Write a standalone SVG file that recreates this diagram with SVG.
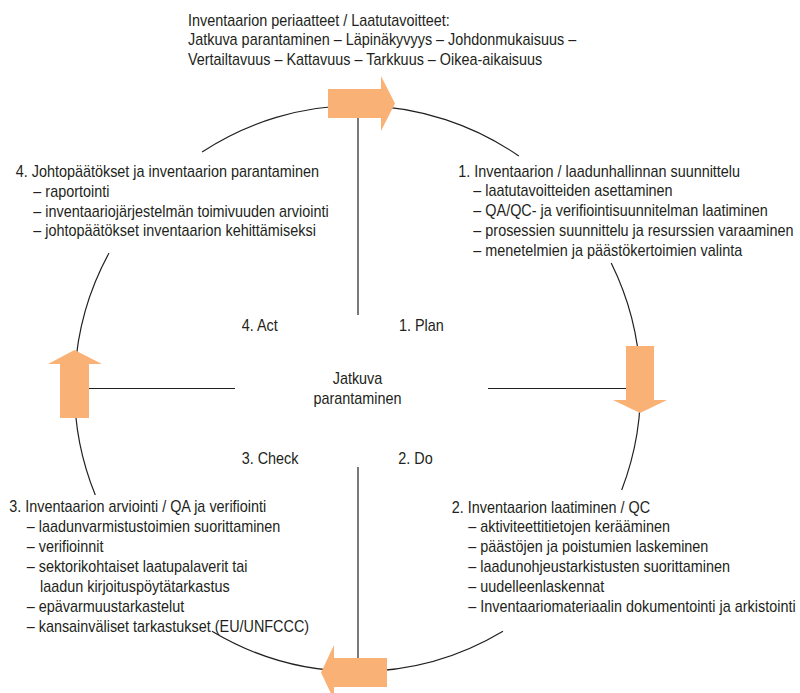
<svg xmlns="http://www.w3.org/2000/svg" width="800" height="693" viewBox="0 0 800 693">
<defs>
<style>
.t{font-family:"Liberation Sans",Arial,sans-serif;font-size:16px;fill:#231f20;}
.c{fill:none;stroke:#231f20;stroke-width:1.2;}
.a{fill:#fab176;stroke:none;}
</style>
</defs>
<rect width="800" height="693" fill="#ffffff"/>
<g id="connectors">
<path class="c" d="M202.1,152 A283,283 0 0 1 518.8,156"/>
<path class="c" d="M611.2,263 A283,283 0 0 1 621.7,490"/>
<path class="c" d="M503,631.2 A283,283 0 0 1 212,631.2"/>
<path class="c" d="M95.3,495 A283,283 0 0 1 109,253"/>
<line class="c" x1="358" y1="110" x2="358" y2="315"/>
<line class="c" x1="358" y1="467" x2="358" y2="660"/>
<line class="c" x1="85" y1="388.5" x2="235" y2="388.5"/>
<line class="c" x1="488" y1="388.5" x2="630" y2="388.5"/>
</g>
<g id="arrows">
<g id="arrow-top"><polygon class="a" points="328,89 381,89 381,76 395,103.5 381,131 381,118 328,118"/></g>
<g id="arrow-right"><polygon class="a" points="626,346 654,346 654,400 667,400 640,413 613,400 626,400"/></g>
<g id="arrow-bottom"><polygon class="a" points="387,658 334,658 334,645 321,672.5 334,700 334,687 387,687"/></g>
<g id="arrow-left"><polygon class="a" points="60,418 89,418 89,364 102,364 74.5,350 48,364 60,364"/></g>
</g>
<g id="principles" transform="translate(188,26) scale(0.9,1)">
<text class="t" x="0" y="0">Inventaarion periaatteet / Laatutavoitteet:</text>
<text class="t" x="0" y="19.5">Jatkuva parantaminen – Läpinäkyvyys – Johdonmukaisuus –</text>
<text class="t" x="0" y="39">Vertailtavuus – Kattavuus – Tarkkuus – Oikea-aikaisuus</text>
</g>
<g id="step4" transform="translate(15.7,177.3) scale(0.9,1)">
<text class="t" x="0" y="0">4. Johtopäätökset ja inventaarion parantaminen</text>
<text class="t" x="19.6" y="19.7">– raportointi</text>
<text class="t" x="19.6" y="39.4">– inventaariojärjestelmän toimivuuden arviointi</text>
<text class="t" x="19.6" y="59.1">– johtopäätökset inventaarion kehittämiseksi</text>
</g>
<g id="step1" transform="translate(458.3,176.7) scale(0.9,1)">
<text class="t" x="0" y="0">1. Inventaarion / laadunhallinnan suunnittelu</text>
<text class="t" x="16.7" y="19.8">– laatutavoitteiden asettaminen</text>
<text class="t" x="16.7" y="39.6">– QA/QC- ja verifiointisuunnitelman laatiminen</text>
<text class="t" x="16.7" y="59.4">– prosessien suunnittelu ja resurssien varaaminen</text>
<text class="t" x="16.7" y="79.2">– menetelmien ja päästökertoimien valinta</text>
</g>
<g id="step3" transform="translate(9.3,512.3) scale(0.9,1)">
<text class="t" x="0" y="0">3. Inventaarion arviointi / QA ja verifiointi</text>
<text class="t" x="19.3" y="19.9">– laadunvarmistustoimien suorittaminen</text>
<text class="t" x="19.3" y="39.8">– verifioinnit</text>
<text class="t" x="19.3" y="59.7">– sektorikohtaiset laatupalaverit tai</text>
<text class="t" x="34.1" y="79.6">laadun kirjoituspöytätarkastus</text>
<text class="t" x="19.3" y="99.5">– epävarmuustarkastelut</text>
<text class="t" x="19.3" y="119.4">– kansainväliset tarkastukset (EU/UNFCCC)</text>
</g>
<g id="step2" transform="translate(451.7,512.7) scale(0.9,1)">
<text class="t" x="0" y="0">2. Inventaarion laatiminen / QC</text>
<text class="t" x="18.4" y="19.8">– aktiviteettitietojen kerääminen</text>
<text class="t" x="18.4" y="39.6">– päästöjen ja poistumien laskeminen</text>
<text class="t" x="18.4" y="59.4">– laadunohjeustarkistusten suorittaminen</text>
<text class="t" x="18.4" y="79.2">– uudelleenlaskennat</text>
<text class="t" x="18.4" y="99">– Inventaariomateriaalin dokumentointi ja arkistointi</text>
</g>
<g id="center" transform="translate(357.5,384.3) scale(0.9,1)">
<text class="t" x="0" y="0" text-anchor="middle">Jatkuva</text>
<text class="t" x="0" y="20" text-anchor="middle">parantaminen</text>
</g>
<g id="label-act" transform="translate(241.7,330.7) scale(0.9,1)"><text class="t" x="0" y="0">4. Act</text></g>
<g id="label-plan" transform="translate(399,330.7) scale(0.9,1)"><text class="t" x="0" y="0">1. Plan</text></g>
<g id="label-check" transform="translate(241.7,464) scale(0.9,1)"><text class="t" x="0" y="0">3. Check</text></g>
<g id="label-do" transform="translate(398.3,464) scale(0.9,1)"><text class="t" x="0" y="0">2. Do</text></g>
</svg>
